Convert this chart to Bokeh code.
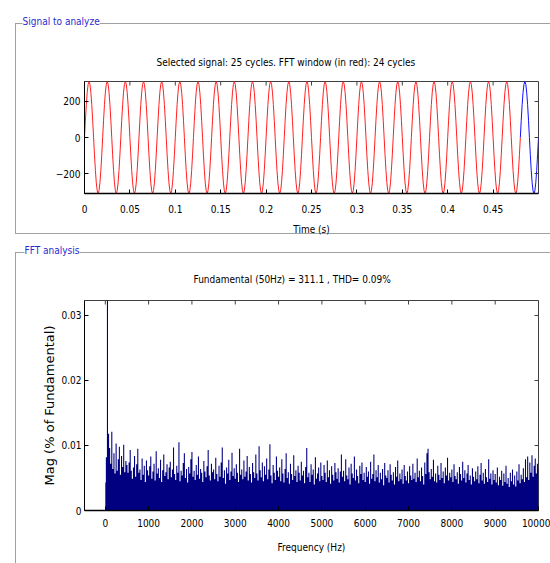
import math
from bokeh.plotting import figure
from bokeh.layouts import column
from bokeh.models import Range1d, FixedTicker, Title, ColumnDataSource
from bokeh.embed import file_html
from bokeh.resources import INLINE

# ---------------- data ----------------
fundamental_hz = 50
fundamental_peak = 311.1
thd_pct = 0.09
n_cycles_selected = 25
n_cycles_fft = 24
sample_step_s = 0.001
# one cycle of the selected signal (20 samples, volts)
cycle_shape = [0.0, 96.1, 182.9, 251.7, 295.9, 311.1, 295.9, 251.7, 182.9, 96.1,
               0.0, -96.1, -182.9, -251.7, -295.9, -311.1, -295.9, -251.7, -182.9, -96.1]

signal_xticks = [0, 0.05, 0.1, 0.15, 0.2, 0.25, 0.3, 0.35, 0.4, 0.45]
signal_yticks = [-200, 0, 200]
fft_xticks = [0, 1000, 2000, 3000, 4000, 5000, 6000, 7000, 8000, 9000, 10000]
fft_yticks = [0, 0.01, 0.02, 0.03]

fft_bin_hz = 25
# spectrum magnitude in units of 1e-4 % of fundamental, one value per 25 Hz bin (0 .. 10000 Hz)
mag_e4 = [
    43, 82, 1000000, 118, 96, 72, 121, 64, 88, 57, 103, 61, 79, 98, 55, 84, 67, 101, 59, 76,
    70, 58, 74, 93, 61, 49, 66, 84, 52, 71, 95, 58, 63, 47, 80, 55, 69, 44, 77, 62,
    54, 68, 83, 49, 60, 72, 46, 91, 57, 65, 50, 78, 44, 62, 86, 53, 59, 71, 48, 66,
    75, 51, 63, 97, 56, 47, 69, 58, 105, 45, 61, 54, 73, 88, 50, 64, 43, 67, 57, 79,
    90, 52, 61, 47, 70, 55, 83, 49, 64, 58, 44, 76, 60, 51, 68, 93, 54, 46, 72, 59,
    63, 48, 81, 56, 45, 69, 52, 74, 97, 50, 62, 41, 66, 57, 78, 47, 60, 89, 53, 65,
    49, 71, 58, 44, 95, 55, 63, 48, 77, 52, 60, 84, 46, 67, 56, 43, 73, 59, 50, 86,
    57, 46, 99, 62, 51, 74, 45, 68, 55, 80, 48, 63, 102, 54, 42, 70, 58, 47, 83, 61,
    52, 66, 45, 79, 57, 43, 64, 88, 50, 59, 41, 72, 56, 47, 85, 53, 62, 44, 69, 58,
    46, 75, 54, 61, 42, 67, 96, 51, 58, 44, 71, 55, 63, 40, 82, 49, 57, 66, 45, 74,
    53, 47, 70, 58, 44, 77, 51, 62, 41, 68, 55, 46, 73, 59, 49, 65, 43, 60, 86, 52,
    61, 45, 79, 54, 48, 66, 40, 72, 57, 50, 83, 46, 63, 53, 42, 69, 56, 74, 47, 58,
    44, 67, 52, 60, 41, 75, 49, 56, 86, 45, 62, 51, 70, 43, 58, 48, 64, 39, 73, 54,
    50, 62, 43, 71, 55, 46, 59, 40, 67, 52, 77, 45, 57, 48, 63, 41, 70, 53, 46, 60,
    42, 68, 54, 47, 72, 49, 58, 44, 80, 51, 61, 45, 66, 53, 40, 74, 56, 88, 95, 59,
    48, 64, 52, 78, 45, 57, 43, 69, 55, 47, 73, 50, 60, 42, 66, 54, 81, 46, 58, 51,
    63, 44, 71, 53, 48, 59, 41, 67, 56, 46, 75, 50, 62, 43, 57, 70, 47, 54, 40, 65,
    52, 45, 60, 48, 68, 42, 55, 73, 46, 58, 41, 64, 51, 44, 79, 49, 57, 40, 62, 47,
    56, 43, 66, 39, 52, 47, 61, 38, 57, 44, 69, 41, 50, 36, 58, 45, 63, 40, 54, 37,
    60, 46, 71, 42, 55, 48, 65, 44, 79, 51, 83, 47, 74, 58, 85, 52, 69, 80, 57, 72,
    64,
]

# ---------------- styling constants ----------------
FONT = "DejaVu Sans Condensed, Liberation Sans"
TICK_SIZE = "10px"
TEXT_SIZE = "10px"
GROUP_TITLE_COLOR = "#2a2ad0"
BOX = "#a0a0a0"

W = 550
H1, H2 = 242, 321
A_L, A_R, A_T, A_B = 84, 538, 81, 193
B_L, B_R, B_T, B_B = 82, 538, 58, 268
T_MIN, T_MAX = 0.0, 0.5
V_MIN, V_MAX = -fundamental_peak, fundamental_peak
F_MIN, F_MAX = -480, 10000
M_MIN, M_MAX = 0.0, 0.0323


def line_bg(segments):
    parts = ["linear-gradient(%s,%s) %dpx %dpx / %dpx %dpx no-repeat" % (BOX, BOX, x, y, w, h)
             for (x, y, w, h) in segments]
    return ", ".join(parts + ["white"])


def style_axis(ax, ticks, width=1):
    ax.ticker = FixedTicker(ticks=ticks)
    ax.major_tick_in = 4
    ax.major_tick_out = 0
    ax.minor_tick_in = 0
    ax.minor_tick_out = 0
    ax.axis_line_color = "black"
    ax.axis_line_width = width
    ax.major_tick_line_color = "black"
    ax.major_label_text_font = FONT
    ax.major_label_text_font_size = TICK_SIZE
    ax.major_label_text_color = "black"
    ax.axis_label_text_font = FONT
    ax.axis_label_text_font_size = TEXT_SIZE
    ax.axis_label_text_font_style = "normal"
    ax.axis_label_text_color = "black"


def box_ticks(p, xticks, yticks, xmax, ymax):
    # MATLAB-style inward ticks on the top and right edges of the box
    p.scatter(xticks, [ymax] * len(xticks), marker="dash", size=8, angle=math.pi / 2,
              line_color="#404040", line_width=1)
    p.scatter([xmax] * len(yticks), yticks, marker="dash", size=8,
              line_color="#404040", line_width=1)


def style_title(t, size, color, standoff, offset, bg=None):
    t.text_font = FONT
    t.text_font_size = size
    t.text_font_style = "normal"
    t.text_color = color
    t.standoff = standoff
    t.align = "left"
    t.offset = offset
    if bg:
        t.background_fill_color = bg


# ---------------- signal panel ----------------
per_cycle = len(cycle_shape)
t_red, v_red, t_blue, v_blue = [], [], [], []
for c in range(n_cycles_selected):
    for j, v in enumerate(cycle_shape):
        t = (c * per_cycle + j) * sample_step_s
        if c < n_cycles_fft:
            t_red.append(t)
            v_red.append(v)
        else:
            t_blue.append(t)
            v_blue.append(v)
t_red.append(n_cycles_fft * per_cycle * sample_step_s)
v_red.append(cycle_shape[0])
t_blue.append(n_cycles_selected * per_cycle * sample_step_s)
v_blue.append(cycle_shape[0])

p1 = figure(width=W, height=H1, x_range=Range1d(T_MIN, T_MAX), y_range=Range1d(V_MIN, V_MAX),
            output_backend="svg", toolbar_location=None, title="Signal to analyze",
            min_border_left=A_L, min_border_right=W - A_R, min_border_top=A_T, min_border_bottom=H1 - A_B,
            background_fill_color="white", border_fill_color=None,
            outline_line_color="#404040")
p1.styles = {"background": line_bg([(15, 23, 1, 211), (15, 23, 540, 1), (15, 233, 540, 1)])}
p1.grid.visible = False
p1.line(t_red, v_red, line_color="#ff2020", line_width=1)
p1.line(t_blue, v_blue, line_color="#1010ff", line_width=1)
box_ticks(p1, signal_xticks, signal_yticks, T_MAX, V_MAX)

style_axis(p1.xaxis[0], signal_xticks, width=1.5)
style_axis(p1.yaxis[0], signal_yticks)
p1.xaxis[0].major_label_standoff = 11
p1.xaxis[0].axis_label = "Time (s)"
p1.xaxis[0].axis_label_standoff = 8
p1.yaxis[0].major_label_standoff = 4
style_title(p1.title, TEXT_SIZE, GROUP_TITLE_COLOR, 27, -62, bg="white")
c1 = Title(text="Selected signal: %d cycles. FFT window (in red): %d cycles" % (n_cycles_selected, n_cycles_fft))
style_title(c1, TEXT_SIZE, "black", 28, 72)
p1.add_layout(c1, "above")

# ---------------- FFT panel ----------------
freq_hz = [i * fft_bin_hz for i in range(len(mag_e4))]
mag_pct = [v * 1e-4 for v in mag_e4]
src = ColumnDataSource(dict(f=freq_hz, m=mag_pct))

p2 = figure(width=W, height=H2, x_range=Range1d(F_MIN, F_MAX), y_range=Range1d(M_MIN, M_MAX),
            output_backend="svg", toolbar_location=None, title="FFT analysis",
            min_border_left=B_L, min_border_right=W - B_R, min_border_top=B_T, min_border_bottom=H2 - B_B,
            background_fill_color="white", border_fill_color=None,
            outline_line_color="#404040")
p2.styles = {"background": line_bg([(15, 10, 1, 320), (15, 10, 540, 1)])}
p2.grid.visible = False
p2.varea_step(x="f", y1=0, y2="m", step_mode="center", source=src, fill_color="#000080")
box_ticks(p2, fft_xticks, fft_yticks, F_MAX, M_MAX)

style_axis(p2.xaxis[0], fft_xticks, width=1.5)
style_axis(p2.yaxis[0], fft_yticks)
p2.xaxis[0].major_label_standoff = 8
p2.xaxis[0].axis_label = "Frequency (Hz)"
p2.xaxis[0].axis_label_standoff = 12
p2.yaxis[0].major_label_standoff = 3
p2.yaxis[0].axis_label = "Mag (% of Fundamental)"
p2.yaxis[0].axis_label_text_font = "DejaVu Sans"
p2.yaxis[0].axis_label_text_font_size = "13px"
p2.yaxis[0].axis_label_standoff = 1
style_title(p2.title, TEXT_SIZE, GROUP_TITLE_COLOR, 0, -60, bg="white")
c2 = Title(text="Fundamental (%dHz) = %.1f , THD= %.2f%%" % (fundamental_hz, fundamental_peak, thd_pct))
style_title(c2, TEXT_SIZE, "black", 32, 109)
p2.add_layout(c2, "above")

layout = column(p1, p2, spacing=0)
open("out.html", "w").write(file_html(layout, INLINE))
